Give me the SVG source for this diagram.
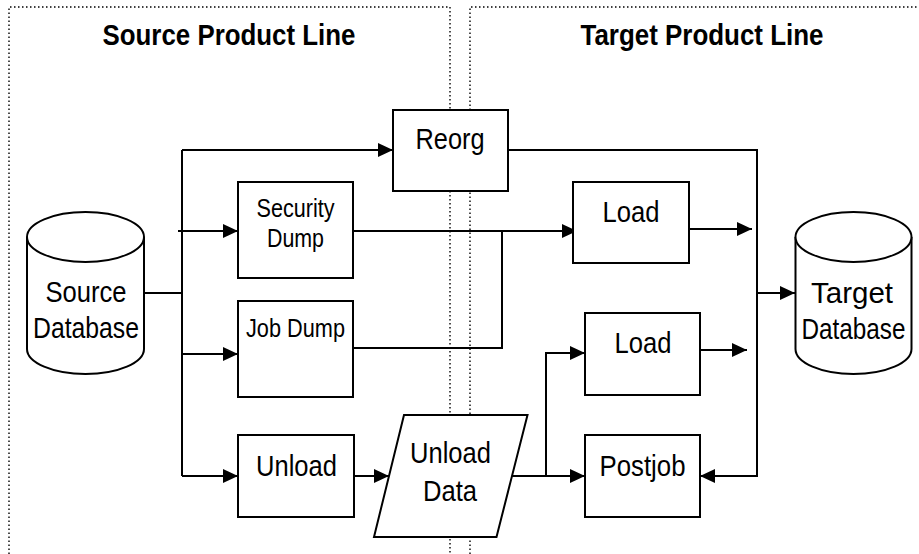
<svg xmlns="http://www.w3.org/2000/svg" width="919" height="554" viewBox="0 0 919 554">
  <style>
    .panel { fill: none; stroke: #000; stroke-width: 1.4; stroke-dasharray: 1.5 2.5; }
    .box { fill: #fff; stroke: #000; stroke-width: 2; }
    .wire { fill: none; stroke: #000; stroke-width: 2; }
    .arrow { marker-end: url(#head); }
    .title { font-family: "Liberation Sans", Arial, sans-serif; font-weight: bold; font-size: 29px; fill: #000; text-anchor: middle; }
    .lbl { font-family: "Liberation Sans", Arial, sans-serif; font-size: 30px; fill: #000; text-anchor: middle; }
    .sm { font-family: "Liberation Sans", Arial, sans-serif; font-size: 26px; fill: #000; text-anchor: middle; }
  </style>
  <defs>
    <marker id="head" markerUnits="userSpaceOnUse" markerWidth="15" markerHeight="15" refX="15" refY="7" orient="auto">
      <path d="M0,0 L15,7 L0,14 z" fill="#000"/>
    </marker>
  </defs>

  <rect width="919" height="554" fill="#fff"/>

  <!-- swimlane frames -->
  <g id="lanes">
    <path class="panel" d="M9,554 V7 H450 V554"/>
    <path class="panel" d="M470,554 V7 H919"/>
    <text class="title" x="229" y="45" textLength="253" lengthAdjust="spacingAndGlyphs">Source Product Line</text>
    <text class="title" x="702" y="45" textLength="243" lengthAdjust="spacingAndGlyphs">Target Product Line</text>
  </g>

  <!-- connectors -->
  <g id="connectors">
    <path class="wire" d="M144,293 H182"/>
    <path class="wire" d="M182,150 V476"/>
    <path class="wire arrow" d="M182,150 H393"/>
    <path class="wire arrow" d="M178,231 H238"/>
    <path class="wire arrow" d="M182,354 H238"/>
    <path class="wire arrow" d="M182,476 H238"/>
    <path class="wire arrow" d="M355,476 H389"/>
    <path class="wire arrow" d="M353,231 H577"/>
    <path class="wire" d="M353,348 H502 V231"/>
    <path class="wire arrow" d="M689,229 H752"/>
    <path class="wire arrow" d="M508,150 H757 V476 H700"/>
    <path class="wire arrow" d="M757,293 H795"/>
    <path class="wire arrow" d="M700,350 H747"/>
    <path class="wire arrow" d="M512,476 H585"/>
    <path class="wire arrow" d="M546,476 V353 H585"/>
  </g>

  <!-- nodes -->
  <g id="source-db">
    <path class="box" d="M27,237 V349 A58.5,25 0 0 0 144,349 V237 A58.5,25 0 0 0 27,237 Z"/>
    <path class="box" d="M27,237 A58.5,25 0 0 0 144,237" fill="none"/>
    <text class="lbl" x="86" y="302" textLength="81" lengthAdjust="spacingAndGlyphs">Source</text>
    <text class="lbl" x="86" y="338" textLength="106" lengthAdjust="spacingAndGlyphs">Database</text>
  </g>

  <g id="reorg">
    <rect class="box" x="393" y="110" width="115" height="81"/>
    <text class="lbl" x="450" y="149" textLength="69" lengthAdjust="spacingAndGlyphs">Reorg</text>
  </g>

  <g id="security-dump">
    <rect class="box" x="238" y="182" width="115" height="96"/>
    <text class="sm" x="295.5" y="217" textLength="78" lengthAdjust="spacingAndGlyphs">Security</text>
    <text class="sm" x="295.5" y="247" textLength="57" lengthAdjust="spacingAndGlyphs">Dump</text>
  </g>

  <g id="job-dump">
    <rect class="box" x="238" y="301" width="115" height="96"/>
    <text class="sm" x="295.5" y="337" textLength="99" lengthAdjust="spacingAndGlyphs">Job Dump</text>
  </g>

  <g id="unload">
    <rect class="box" x="238" y="435" width="116" height="82"/>
    <text class="lbl" x="296.5" y="476" textLength="81" lengthAdjust="spacingAndGlyphs">Unload</text>
  </g>

  <g id="unload-data">
    <path class="box" d="M404,415 H527.5 L496.5,537 H374 Z"/>
    <text class="lbl" x="450.5" y="463" textLength="81" lengthAdjust="spacingAndGlyphs">Unload</text>
    <text class="lbl" x="450" y="501" textLength="54" lengthAdjust="spacingAndGlyphs">Data</text>
  </g>

  <g id="load-1">
    <rect class="box" x="573" y="182" width="116" height="81"/>
    <text class="lbl" x="631" y="222" textLength="57" lengthAdjust="spacingAndGlyphs">Load</text>
  </g>

  <g id="load-2">
    <rect class="box" x="585" y="313" width="115" height="82"/>
    <text class="lbl" x="643" y="353" textLength="57" lengthAdjust="spacingAndGlyphs">Load</text>
  </g>

  <g id="postjob">
    <rect class="box" x="585" y="435" width="115" height="82"/>
    <text class="lbl" x="642.5" y="476" textLength="86" lengthAdjust="spacingAndGlyphs">Postjob</text>
  </g>

  <g id="target-db">
    <path class="box" d="M795.5,237 V349 A58,25 0 0 0 911.5,349 V237 A58,25 0 0 0 795.5,237 Z"/>
    <path class="box" d="M795.5,237 A58,25 0 0 0 911.5,237" fill="none"/>
    <text class="lbl" x="852" y="303" textLength="82" lengthAdjust="spacingAndGlyphs">Target</text>
    <text class="lbl" x="853.5" y="339" textLength="104" lengthAdjust="spacingAndGlyphs">Database</text>
  </g>
</svg>
